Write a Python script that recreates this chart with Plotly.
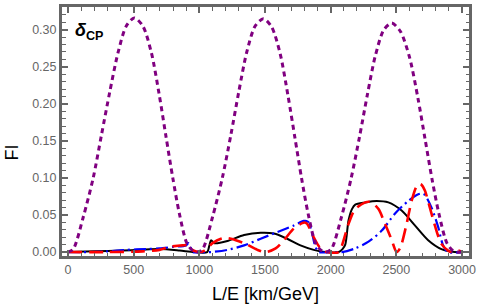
import plotly.graph_objects as go

# ---- data ----
purple_x = [0, 40, 116, 192, 255, 318, 381, 444, 505, 570, 635, 695, 747, 798, 848, 905, 950, 985,
            1025, 1100, 1175, 1240, 1300, 1360, 1425, 1488, 1550, 1615, 1675, 1728, 1778, 1828, 1885, 1930, 1965,
            2005, 2080, 2155, 2220, 2280, 2340, 2405, 2465, 2530, 2600, 2665, 2720, 2772, 2825, 2885, 2930, 2965, 3000]
purple_y = [0, 0.004, 0.047, 0.100, 0.158, 0.216, 0.269, 0.305, 0.316, 0.305, 0.269, 0.212, 0.155, 0.100, 0.052, 0.012, 0.002, 0,
            0.004, 0.047, 0.100, 0.158, 0.216, 0.269, 0.305, 0.315, 0.304, 0.268, 0.211, 0.154, 0.100, 0.052, 0.012, 0.002, 0,
            0.004, 0.046, 0.099, 0.156, 0.213, 0.265, 0.300, 0.309, 0.298, 0.263, 0.207, 0.151, 0.098, 0.051, 0.012, 0.002, 0, 0]

black_x = [0, 200, 420, 550, 700, 850, 960, 1060, 1075, 1090, 1115, 1215, 1341, 1467, 1568, 1669, 1770, 1871, 1960,
           2061, 2090, 2111, 2136, 2162, 2187, 2263, 2351, 2439, 2540, 2641, 2742, 2843, 2944, 3000]
black_y = [0, 0.001, 0.002, 0.003, 0.004, 0.002, 0, 0, 0.008, 0.016, 0.012, 0.015, 0.023, 0.026, 0.025, 0.018, 0.009, 0.003, 0,
           0, 0.004, 0.010, 0.043, 0.058, 0.064, 0.067, 0.069, 0.067, 0.056, 0.036, 0.016, 0.004, 0, 0]

blue_x = [0, 141, 300, 444, 600, 697, 800, 899, 919, 935, 950, 1040, 1088, 1215, 1341, 1467, 1593, 1720, 1795, 1815,
          1833, 1859, 1884, 1910, 2000, 2086, 2187, 2288, 2389, 2490, 2591, 2667, 2695, 2717, 2768, 2818, 2856, 2894, 3000]
blue_y = [0, 0, 0.001, 0.003, 0.004, 0.005, 0.007, 0.009, 0.012, 0.006, 0, 0, 0.0, 0.003, 0.009, 0.018, 0.027, 0.036, 0.042, 0.042,
          0.040, 0.025, 0.007, 0, 0, 0, 0.005, 0.014, 0.029, 0.052, 0.069, 0.078, 0.079, 0.077, 0.060, 0.034, 0.009, 0, 0]

red_x = [0, 300, 568, 697, 773, 871, 912, 937, 970, 1000, 1040, 1101, 1164, 1200, 1240, 1341, 1442, 1505, 1581, 1644,
         1720, 1783, 1800, 1821, 1871, 1922, 1972, 2061, 2086, 2136, 2187, 2263, 2290, 2313, 2364, 2414, 2465, 2502,
         2528, 2578, 2616, 2654, 2672, 2690, 2717, 2755, 2793, 2843, 2894, 2919, 2970, 3000]
red_y = [0, 0, 0.001, 0.003, 0.007, 0.009, 0.009, 0.004, 0.001, 0, 0.002, 0.012, 0.018, 0.019, 0.018, 0.012, 0.003, 0, 0.005, 0.016,
         0.032, 0.039, 0.040, 0.038, 0.020, 0.005, 0, 0, 0.009, 0.038, 0.058, 0.067, 0.068, 0.067, 0.058, 0.038, 0.016, 0,
         0.005, 0.038, 0.069, 0.089, 0.092, 0.091, 0.083, 0.060, 0.036, 0.011, 0.002, 0, 0.002, 0]

x_ticks = [0, 500, 1000, 1500, 2000, 2500, 3000]
y_ticks = [0.00, 0.05, 0.10, 0.15, 0.20, 0.25, 0.30]

FRAME = "#666666"
TICKFONT = dict(family="Liberation Sans, Arial, sans-serif", size=12.5, color="#666666")

fig = go.Figure()
fig.add_trace(go.Scatter(x=black_x, y=black_y, mode="lines", line=dict(color="black", width=2, shape="spline", smoothing=0.8)))
fig.add_trace(go.Scatter(x=blue_x, y=blue_y, mode="lines", line=dict(color="#0000ff", width=2.2, dash="12px,4px,2px,4px", shape="spline", smoothing=0.8)))
fig.add_trace(go.Scatter(x=red_x, y=red_y, mode="lines", line=dict(color="#ff0000", width=2.6, dash="14px,7px", shape="spline", smoothing=0.8)))
fig.add_trace(go.Scatter(x=purple_x, y=purple_y, mode="lines", line=dict(color="#800080", width=3, dash="5px,4px", shape="spline", smoothing=0.8)))

fig.update_xaxes(range=[-45.5, 3053], showline=True, linewidth=3, linecolor=FRAME, mirror="allticks",
                 ticks="inside", ticklen=6, tickwidth=1.5, tickcolor=FRAME,
                 tickvals=x_ticks, ticktext=[str(v) for v in x_ticks],
                 minor=dict(ticks="inside", ticklen=3.5, tickwidth=1, dtick=100, tick0=0, tickcolor=FRAME, showgrid=False),
                 showgrid=False, zeroline=False, tickfont=TICKFONT)
fig.update_yaxes(range=[-0.0053, 0.3307], showline=True, linewidth=3, linecolor=FRAME, mirror="allticks",
                 ticks="inside", ticklen=6, tickwidth=1.5, tickcolor=FRAME,
                 tickvals=y_ticks, ticktext=["%.2f" % v for v in y_ticks],
                 minor=dict(ticks="inside", ticklen=3.5, tickwidth=1, dtick=0.01, tick0=0, tickcolor=FRAME, showgrid=False),
                 showgrid=False, zeroline=False, tickfont=TICKFONT)

fig.update_layout(
    width=480, height=306, showlegend=False,
    margin=dict(l=62, r=9, t=4, b=50),
    plot_bgcolor="white", paper_bgcolor="white",
    annotations=[
        dict(text="L/E [km/GeV]", xref="paper", yref="paper", x=0.501, y=-0.151, showarrow=False,
             xanchor="center", yanchor="middle", font=dict(family="Liberation Sans, Arial, sans-serif", size=18, color="black")),
        dict(text="FI", xref="paper", yref="paper", x=-0.122, y=0.417, showarrow=False, textangle=-90,
             xanchor="center", yanchor="middle", font=dict(family="Liberation Sans, Arial, sans-serif", size=18, color="black")),
        dict(text="<b><i>δ</i><sub>CP</sub></b>", xref="paper", yref="paper", x=0.027, y=0.90, showarrow=False,
             xanchor="left", yanchor="middle", font=dict(family="Liberation Sans, Arial, sans-serif", size=18, color="black")),
    ],
)

fig.write_html("out.html", config={"displayModeBar": False},
               post_script="document.body.style.margin='0px';document.body.style.overflow='hidden';")
